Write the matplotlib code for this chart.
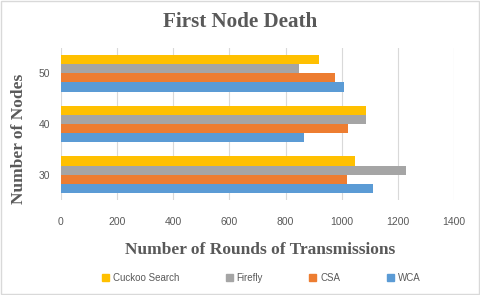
import numpy as np
import matplotlib
matplotlib.use("Agg")
from matplotlib import pyplot as plt
from matplotlib.patches import Patch, Rectangle

nodes = ["30", "40", "50"]
series = ["WCA", "CSA", "Firefly", "Cuckoo Search"]
wca = [1112, 867, 1009]
csa = [1019, 1023, 976]
firefly = [1228, 1086, 848]
cuckoo = [1046, 1086, 920]
colors = ["#5B9BD5", "#ED7D31", "#A5A5A5", "#FFC000"]

fig = plt.figure(figsize=(4.8, 2.95), dpi=100)
ax = fig.add_axes([61 / 480, 1 - 200 / 295, 393 / 480, 152 / 295])

y = np.arange(len(nodes))
h = 0.18
values = [wca, csa, firefly, cuckoo]
for k, (vals, c) in enumerate(zip(values, colors)):
    ax.barh(y + (k - 1.5) * h, vals, height=h, color=c, zorder=2)

ax.set_xlim(0, 1400)
ax.set_ylim(-0.5, 2.5)
ax.set_xticks(range(0, 1401, 200))
ax.set_yticks(y)
ax.set_yticklabels(nodes)
ax.grid(axis="x", color="#D9D9D9", linewidth=0.8, zorder=0)
for s in ax.spines.values():
    s.set_visible(False)
ax.tick_params(length=0, labelsize=7.5, colors="#595959")
ax.tick_params(axis="x", pad=12)
ax.tick_params(axis="y", pad=8)
for t in ax.get_xticklabels() + ax.get_yticklabels():
    t.set_family("Liberation Sans")

serif = dict(family="Liberation Serif", weight="bold", color="#595959")
fig.text(0.5, 1 - 22 / 295, "First Node Death", ha="center", va="center", fontsize=15.2, **serif)
fig.text(260 / 480, 1 - 250 / 295, "Number of Rounds of Transmissions", ha="center", va="center", fontsize=12.5, **serif)
fig.text(19 / 480, 1 - 139 / 295, "Number of Nodes", ha="center", va="center", rotation=90, fontsize=12.5, **serif)

handles = [Patch(color=c, label=s) for s, c in zip(series, colors)][::-1]
fig.legend(handles=handles, loc="center", bbox_to_anchor=(0.544, 1 - 278 / 295), ncol=4, frameon=False,
           prop={"family": "Liberation Sans", "size": 7}, labelcolor="#595959",
           handlelength=0.7, handleheight=0.7, handletextpad=0.4, columnspacing=4.8)

fig.patches.append(Rectangle((0.002, 0.003), 0.996, 0.994, transform=fig.transFigure,
                             fill=False, edgecolor="#D9D9D9", linewidth=1))

fig.savefig("out.png", dpi=100)
